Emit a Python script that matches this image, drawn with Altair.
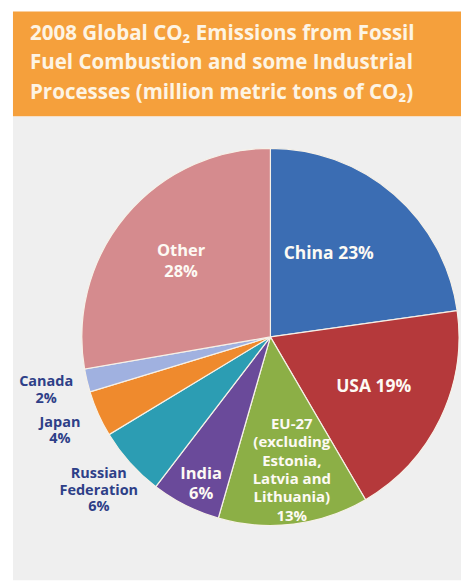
import altair as alt
import pandas as pd

# ---- data ----
categories = ["China", "USA", "EU-27", "India", "Russian Federation", "Japan", "Canada", "Other"]
shares = [23, 19, 13, 6, 6, 4, 2, 28]
labels = [
    "China 23%",
    "USA 19%",
    "EU-27\n(excluding\nEstonia,\nLatvia and\nLithuania)\n13%",
    "India\n6%",
    "Russian\nFederation\n6%",
    "Japan\n4%",
    "Canada\n2%",
    "Other\n28%",
]
title_lines = [
    "2008 Global CO\u2082 Emissions from Fossil",
    "Fuel Combustion and some Industrial",
    "Processes (million metric tons of CO\u2082)",
]

# ---- styles ----
colors = ["#3b6db3", "#b5393b", "#8caf46", "#6a4a9a", "#2c9db3", "#ef8a2d", "#a0b1e0", "#d58b8e"]
inside = ["China", "USA", "EU-27", "India", "Other"]
outside = ["Russian Federation", "Japan", "Canada"]
FONT = "Open Sans"
CX, CY, R = 258, 221, 189
label_radius_expr = (
    "datum.cat == 'China' ? 102 : datum.cat == 'USA' ? 115 : "
    "datum.cat == 'EU-27' ? 135 : datum.cat == 'India' ? 163 : "
    "datum.cat == 'Other' ? 117 : 231"
)
label_turn_expr = "datum.cat == 'China' ? -6 : datum.cat == 'EU-27' ? -2 : datum.cat == 'India' ? -1.5 : 0"
font_size_expr = (
    "datum.cat == 'China' || datum.cat == 'USA' ? 17.5 : "
    "datum.cat == 'Other' || datum.cat == 'India' ? 16.5 : "
    "datum.cat == 'EU-27' ? 15 : 14.5"
)
line_height_expr = (
    "datum.cat == 'EU-27' ? 18.3 : datum.cat == 'Other' || datum.cat == 'India' ? 21 : 16.7"
)

df = pd.DataFrame({
    "cat": categories,
    "share": shares,
    "label": labels,
    "idx": list(range(len(categories))),
})

arcs = alt.Chart(df).mark_arc(radius=R, stroke="#f6f1e8", strokeWidth=1.2).encode(
    theta=alt.Theta("share:Q", stack=True),
    order=alt.Order("idx:Q"),
    x=alt.value(CX),
    y=alt.value(CY),
    color=alt.Color("cat:N", scale=alt.Scale(domain=categories, range=colors), legend=None),
)

label_base = alt.Chart(df).transform_window(
    cum="sum(share)", sort=[alt.SortField("idx")], frame=[None, 0]
).transform_joinaggregate(
    total="sum(share)"
).transform_calculate(
    mid="2 * PI * (datum.cum - datum.share / 2) / datum.total",
    lr=label_radius_expr,
    turn=label_turn_expr,
    fs=font_size_expr,
    lh=line_height_expr,
    nl="length(split(datum.label, '\\n'))",
).transform_calculate(
    ang="datum.mid + datum.turn * PI / 180",
).transform_calculate(
    px=f"{CX} + datum.lr * sin(datum.ang)",
    py=f"{CY} - datum.lr * cos(datum.ang)",
)


def label_layer(cats, color, lh):
    return label_base.transform_filter(
        alt.FieldOneOfPredicate(field="cat", oneOf=cats)
    ).transform_calculate(
        py0=f"datum.py - (datum.nl - 1) * {lh} / 2",
    ).mark_text(
        lineBreak="\n", font=FONT, fontWeight="bold", lineHeight=lh,
        color=color, align="center", baseline="middle",
    ).encode(
        text="label:N",
        x=alt.X("px:Q", scale=None),
        y=alt.Y("py0:Q", scale=None),
        size=alt.Size("fs:Q", scale=None, legend=None),
    )


inner_layers = [
    label_layer(["China", "USA"], "#fdfaf4", 20),
    label_layer(["Other", "India"], "#fdfaf4", 20.5),
    label_layer(["EU-27"], "#fdfaf4", 18.3),
]
outer_text = label_layer(outside, "#2e3f88", 16.7)

pie = alt.layer(arcs, *inner_layers, outer_text).properties(
    width=449, height=465,
    view=alt.ViewBackground(fill="#efefef", strokeWidth=0),
)

title_df = pd.DataFrame({"t": ["\n".join(title_lines)]})
header = alt.Chart(title_df).mark_text(
    lineBreak="\n", font=FONT, fontWeight="bold", fontSize=20.6, lineHeight=30,
    color="#fdf4e4", align="left", baseline="middle"
).encode(
    text="t:N",
    x=alt.value(17),
    y=alt.value(22),
).properties(
    width=449, height=105,
    view=alt.ViewBackground(fill="#f5a03c", strokeWidth=0),
)

chart = alt.vconcat(header, pie, spacing=0).properties(
    padding={"left": 13, "top": 11, "right": 0, "bottom": 0},
    background="white",
).configure_view(strokeWidth=0)

chart.save("out.html", embed_options={"renderer": "svg", "actions": False})
